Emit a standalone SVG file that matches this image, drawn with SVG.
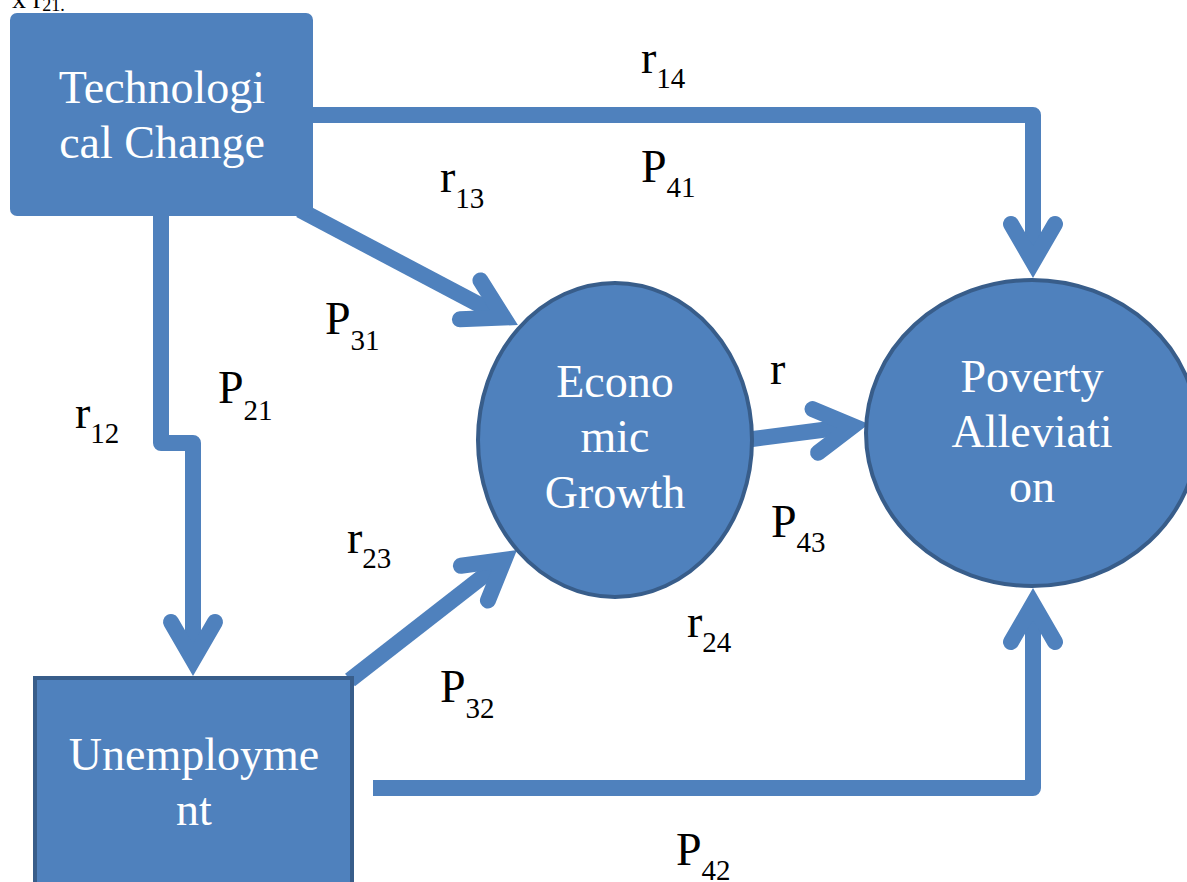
<svg xmlns="http://www.w3.org/2000/svg" width="1187" height="882" viewBox="0 0 1187 882">
<defs>
<style>
.conn{fill:none;stroke:#4F81BD;stroke-width:16;stroke-linejoin:round;stroke-linecap:butt;marker-end:url(#chev)}
.node{fill:#4F81BD}
.ol{stroke:#385D8A;stroke-width:4}
.nt{font-family:"Liberation Serif","Times New Roman",serif;font-size:46px;fill:#FFFFFF;text-anchor:middle}
.lb{font-family:"Liberation Serif","Times New Roman",serif;font-size:46px;fill:#000000}
.sub{font-size:29px}
</style>
<marker id="chev" markerUnits="userSpaceOnUse" viewBox="-60 -40 100 80" refX="0" refY="0" markerWidth="100" markerHeight="80" orient="auto" overflow="visible">
<path d="M -38 -22 L 0 0 L -38 22" fill="none" stroke="#4F81BD" stroke-width="16" stroke-linejoin="miter" stroke-miterlimit="10" stroke-linecap="round"/>
</marker>
</defs>
<rect width="1187" height="882" fill="#FFFFFF"/>
<text class="lb" x="12" y="8" style="font-size:28px">x r<tspan class="sub" dy="3" style="font-size:18px">21.</tspan></text>
<g id="connectors">
<path class="conn" d="M 305 115 H 1033 V 262"/>
<path class="conn" d="M 300 210 L 503.8 317.6"/>
<path class="conn" d="M 161 210 V 443 H 193 V 660"/>
<path class="conn" d="M 350 680 L 504.4 559.8"/>
<path class="conn" d="M 745 440 L 853 426"/>
<path class="conn" d="M 373 788 H 1033 V 604"/>
</g>
<g id="tech">
<rect class="node" x="10" y="13" width="303" height="203" rx="7"/>
<text class="nt" x="162" y="103">Technologi</text>
<text class="nt" x="162" y="158">cal Change</text>
</g>
<g id="unemployment">
<rect class="node ol" x="35" y="678" width="317" height="230"/>
<text class="nt" x="194" y="770">Unemployme</text>
<text class="nt" x="194" y="825">nt</text>
</g>
<g id="growth">
<ellipse class="node ol" cx="615" cy="440" rx="137" ry="157"/>
<text class="nt" x="615" y="397">Econo</text>
<text class="nt" x="615" y="452">mic</text>
<text class="nt" x="615" y="508">Growth</text>
</g>
<g id="poverty">
<ellipse class="node ol" cx="1032" cy="433" rx="166" ry="153"/>
<text class="nt" x="1032" y="392">Poverty</text>
<text class="nt" x="1032" y="447">Alleviati</text>
<text class="nt" x="1032" y="502">on</text>
</g>
<g id="labels">
<text class="lb" x="641" y="73">r<tspan class="sub" dy="15">14</tspan></text>
<text class="lb" x="641" y="182">P<tspan class="sub" dy="15">41</tspan></text>
<text class="lb" x="440" y="192">r<tspan class="sub" dy="16">13</tspan></text>
<text class="lb" x="325" y="334">P<tspan class="sub" dy="16">31</tspan></text>
<text class="lb" x="218" y="403">P<tspan class="sub" dy="17">21</tspan></text>
<text class="lb" x="75" y="428">r<tspan class="sub" dy="15">12</tspan></text>
<text class="lb" x="770" y="384">r</text>
<text class="lb" x="771" y="537">P<tspan class="sub" dy="15">43</tspan></text>
<text class="lb" x="347" y="553">r<tspan class="sub" dy="15">23</tspan></text>
<text class="lb" x="687" y="637">r<tspan class="sub" dy="15">24</tspan></text>
<text class="lb" x="440" y="702">P<tspan class="sub" dy="16">32</tspan></text>
<text class="lb" x="676" y="865">P<tspan class="sub" dy="15">42</tspan></text>
</g>
</svg>
